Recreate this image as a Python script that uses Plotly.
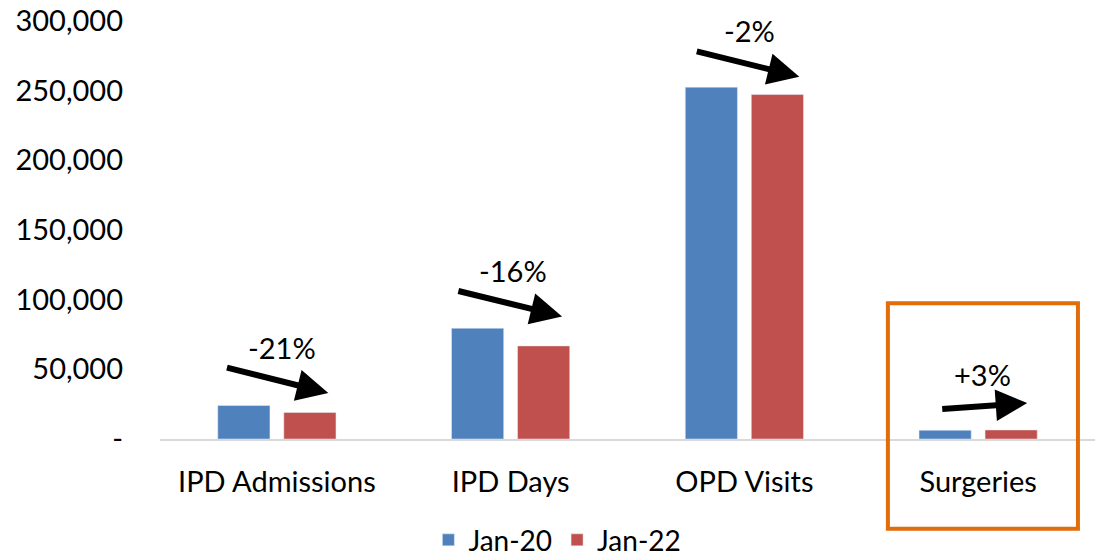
import plotly.graph_objects as go

categories = ["IPD Admissions", "IPD Days", "OPD Visits", "Surgeries"]
jan20 = [24000, 79500, 252500, 6300]
jan22 = [19000, 66800, 247200, 6500]
changes = ["-21%", "-16%", "-2%", "+3%"]
tick_vals = [0, 50000, 100000, 150000, 200000, 250000, 300000]
tick_text = ["-", "50,000", "100,000", "150,000", "200,000", "250,000", "300,000"]

# arrow geometry relative to each category (offset in category units, y in data units)
arrow_tail = [(-0.22, 51500), (-0.23, 106500), (-0.21, 278500), (-0.16, 21500)]
arrow_head = [(0.22, 33000), (0.22, 88000), (0.235, 260000), (0.21, 25800)]
label_pos = [(0.02, 66000), (0.01, 121000), (0.02, 293500), (0.02, 46000)]

FONT = "Lato"
FS = 29

fig = go.Figure()
fig.add_trace(go.Bar(x=categories, y=jan20, name="Jan-20", marker_color="#4F81BD"))
fig.add_trace(go.Bar(x=categories, y=jan22, name="Jan-22", marker_color="#C0504D"))

annotations = []
for i, (c, t, h, l) in enumerate(zip(changes, arrow_tail, arrow_head, label_pos)):
    annotations.append(dict(
        x=i + h[0], y=h[1], xref="x", yref="y",
        ax=i + t[0], ay=t[1], axref="x", ayref="y",
        showarrow=True, arrowhead=2, arrowsize=1.05, arrowwidth=6,
        arrowcolor="black", text="",
    ))
    annotations.append(dict(
        x=i + l[0], y=l[1], xref="x", yref="y", text=c, showarrow=False,
        font=dict(family=FONT, size=FS, color="black"),
    ))

fig.update_layout(
    width=1096, height=557,
    margin=dict(l=160, r=1, t=21, b=118, autoexpand=False),
    paper_bgcolor="white", plot_bgcolor="white",
    barmode="group", bargap=0.435, bargroupgap=0.21,
    font=dict(family=FONT, size=FS, color="black"),
    showlegend=True,
    legend=dict(orientation="h", x=0.425, y=-0.242, xanchor="center", yanchor="middle",
                font=dict(family=FONT, size=28), itemwidth=30, tracegroupgap=0),
    annotations=annotations,
    shapes=[dict(type="rect", xref="x", yref="paper", x0=2.614, x1=3.427, y0=-0.215, y1=0.325,
                 line=dict(color="#E36C0A", width=4), fillcolor="rgba(0,0,0,0)")],
)
fig.update_xaxes(showline=True, linecolor="#D9D9D9", linewidth=2, showgrid=False,
                 automargin=False, ticklabeloverflow="allow",
                 ticks="", ticklabelstandoff=16, tickfont=dict(family=FONT, size=FS))
fig.update_yaxes(range=[0, 300000], tickvals=tick_vals, ticktext=tick_text,
                 showgrid=False, zeroline=False, showline=False, ticks="",
                 automargin=False, ticklabeloverflow="allow",
                 ticklabelstandoff=36, tickfont=dict(family=FONT, size=FS))

fig.write_html(
    "out.html",
    config={"displayModeBar": False},
    post_script="document.body.style.margin='0';document.body.style.overflow='hidden';",
)
